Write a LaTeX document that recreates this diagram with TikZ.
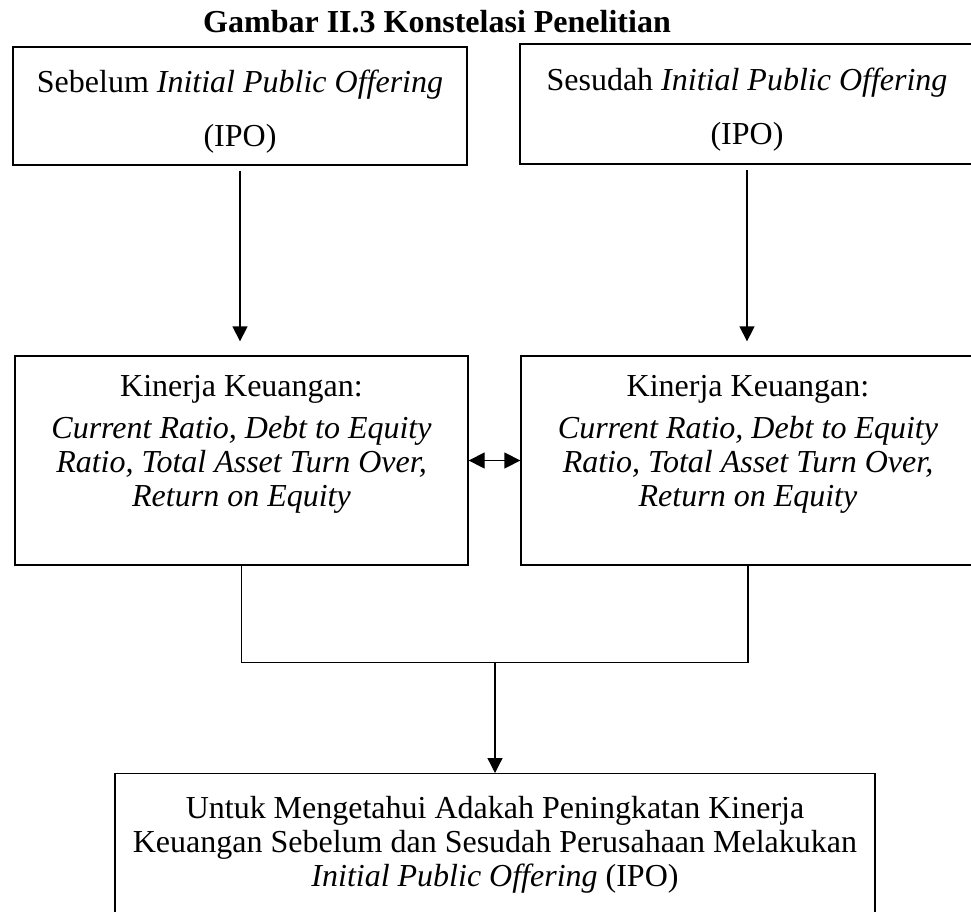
\documentclass[tikz,border=0pt]{standalone}
\usepackage{fontspec}
\setmainfont{Liberation Serif}
\usetikzlibrary{arrows.meta,positioning,calc}

\begin{document}
\begin{tikzpicture}[x=1pt, y=-1pt, font=\fontsize{32}{34}\selectfont,
  box/.style={draw, line width=1.3pt, inner sep=0pt, align=center},
  arr/.style={-{Triangle[length=15pt,width=15pt]}, line width=1.3pt}]
  \useasboundingbox (0,0) rectangle (971,912);
  \clip (0,0) rectangle (971,912);
  % title
  \node[font=\fontsize{32}{34}\selectfont\bfseries] (title) at (437,22) {Gambar II.3 Konstelasi Penelitian};
  % top row
  \node[box, minimum width=454pt, minimum height=118pt] (before) at (240,106)
    {\rule{0pt}{34pt}Sebelum \textit{Initial Public Offering}\\[20pt](IPO)};
  \node[box, minimum width=454pt, minimum height=120pt] (after) at (747,104)
    {\rule{0pt}{34pt}Sesudah \textit{Initial Public Offering}\\[20pt](IPO)};
  % middle row
  \node[box, minimum width=453pt, minimum height=209pt] (kinbefore) at (241.5,460.5)
    {Kinerja Keuangan:\\[8pt]\textit{Current Ratio, Debt to Equity}\\
     \textit{Ratio, Total Asset Turn Over,}\\\textit{Return on Equity}\\[6pt]\mbox{}};
  \node[box, minimum width=454pt, minimum height=209pt] (kinafter) at (748,460.5)
    {Kinerja Keuangan:\\[8pt]\textit{Current Ratio, Debt to Equity}\\
     \textit{Ratio, Total Asset Turn Over,}\\\textit{Return on Equity}\\[6pt]\mbox{}};
  % result
  \node[box, anchor=north, minimum width=760pt, minimum height=142pt] (result) at (495,773)
    {Untuk Mengetahui Adakah Peningkatan Kinerja\\
     Keuangan Sebelum dan Sesudah Perusahaan Melakukan\\
     \textit{Initial Public Offering} (IPO)};
  % connectors
  \draw[arr, shorten <=5pt, shorten >=14pt] (before.south) -- (before.south |- kinbefore.north);
  \draw[arr, shorten <=5pt, shorten >=14pt] (after.south) -- (after.south |- kinafter.north);
  \draw[{Triangle[length=16pt,width=16pt]}-{Triangle[length=16pt,width=16pt]}, line width=1.3pt]
    (kinbefore.east) -- (kinafter.west);
  \coordinate (join) at ($(kinbefore.south)+(0,97)$);
  \draw[line width=1.3pt] (kinbefore.south) -- (join) -| (kinafter.south);
  \coordinate (mid) at (join -| result.north);
  \draw[arr] (mid) -- (result.north);
\end{tikzpicture}
\end{document}
